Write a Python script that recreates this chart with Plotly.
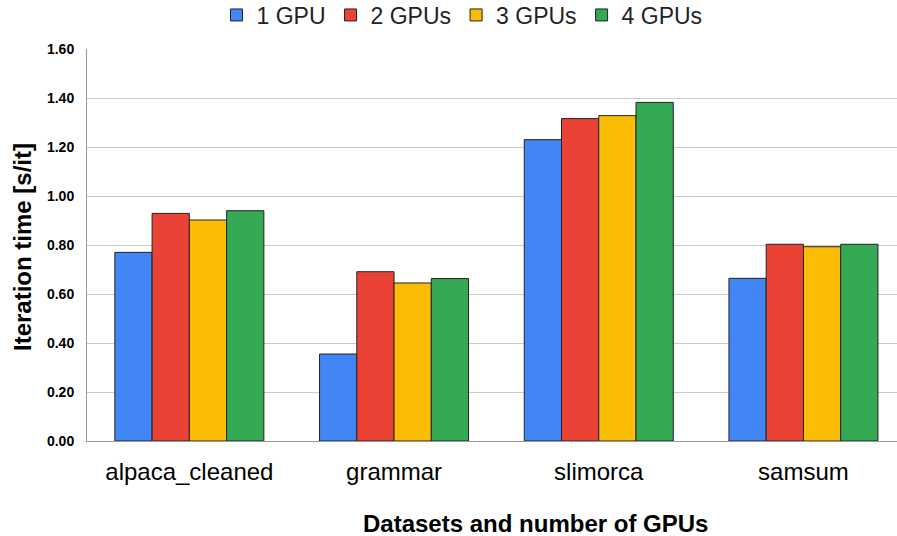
import plotly.graph_objects as go

datasets = ["alpaca_cleaned", "grammar", "slimorca", "samsum"]
series_names = ["1 GPU", "2 GPUs", "3 GPUs", "4 GPUs"]
gpu1 = [0.770, 0.355, 1.230, 0.664]
gpu2 = [0.929, 0.691, 1.316, 0.803]
gpu3 = [0.902, 0.645, 1.328, 0.793]
gpu4 = [0.940, 0.663, 1.382, 0.803]
colors = ["#4285F4", "#EA4335", "#FBBC04", "#34A853"]
y_ticks = [0, 0.2, 0.4, 0.6, 0.8, 1.0, 1.2, 1.4, 1.6]

fig = go.Figure()
for name, vals, c in zip(series_names, [gpu1, gpu2, gpu3, gpu4], colors):
    fig.add_trace(go.Bar(x=datasets, y=vals, name=name,
                         marker=dict(color=c, line=dict(color="#222222", width=1))))

W, H = 897, 536
L, T, B = 87, 49, 95
PW, PH = W - L, H - T - B

def px_x(x):
    return (x - L) / PW

def px_y(y):
    return (H - B - y) / PH

fig.update_layout(
    width=W, height=H,
    margin=dict(l=L, r=0, t=T, b=B, autoexpand=False),
    paper_bgcolor="white", plot_bgcolor="white",
    barmode="group", bargap=0.272, bargroupgap=0,
    font=dict(family="Liberation Sans, Arial, sans-serif", color="#000000"),
    legend=dict(orientation="h", x=px_x(462), xanchor="center", y=px_y(15), yanchor="middle",
                font=dict(size=23, color="#222222"), traceorder="normal",
                bgcolor="rgba(0,0,0,0)"),
    showlegend=True,
    annotations=[
        dict(text="<b>Datasets and number of GPUs</b>", xref="paper", yref="paper",
             x=px_x(535), y=px_y(523), xanchor="center", yanchor="middle", showarrow=False,
             font=dict(size=24, color="#000000")),
        dict(text="<b>Iteration time [s/it]</b>", xref="paper", yref="paper", textangle=-90,
             x=px_x(23), y=px_y(247), xanchor="center", yanchor="middle", showarrow=False,
             font=dict(size=24, color="#000000")),
    ],
)
fig.update_xaxes(
    range=[-0.5, 3.457], showgrid=False, showline=True, linecolor="#999999", linewidth=1,
    tickfont=dict(size=24, color="#000000"), ticks="", ticklabelstandoff=9, automargin=False,
)
fig.update_yaxes(
    range=[0, 1.6], tickvals=y_ticks, tickformat=".2f", showgrid=True, gridcolor="#cccccc",
    gridwidth=1, showline=True, linecolor="#999999", linewidth=1, zeroline=False,
    tickfont=dict(size=14, color="#000000", weight="bold"), ticks="", ticklabelstandoff=9,
    automargin=False,
)
fig.write_html("out.html", config={"displayModeBar": False},
               post_script="document.body.style.margin='0';document.body.style.overflow='hidden';")
